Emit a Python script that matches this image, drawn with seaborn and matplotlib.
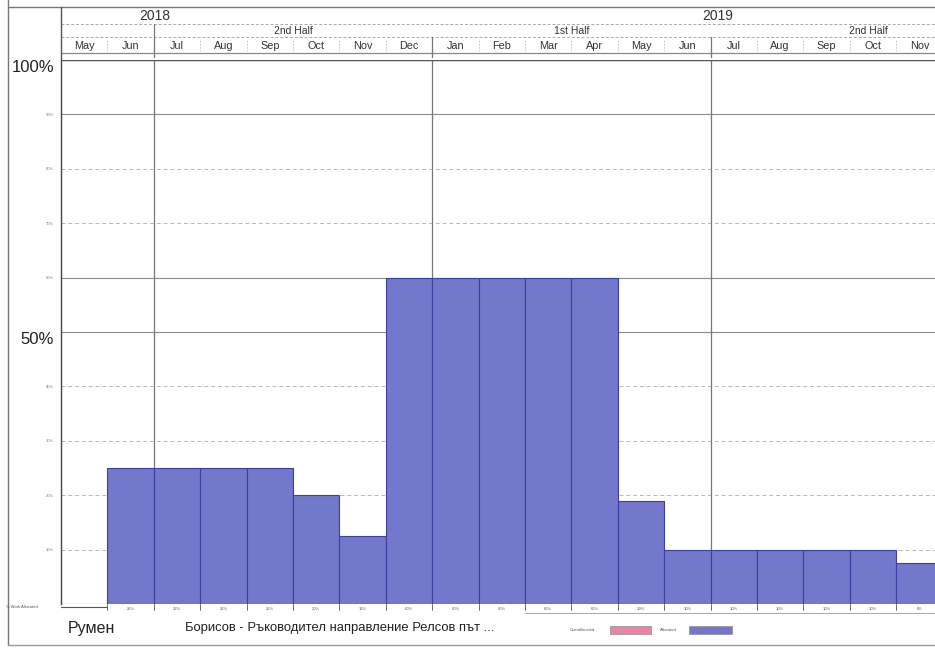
import matplotlib
matplotlib.use("Agg")
import matplotlib.pyplot as plt
import seaborn as sns
import pandas as pd
from matplotlib.patches import Rectangle
from matplotlib.lines import Line2D

# ---------------- data ----------------
months = ['May', 'Jun', 'Jul', 'Aug', 'Sep', 'Oct', 'Nov', 'Dec',
          'Jan', 'Feb', 'Mar', 'Apr', 'May', 'Jun', 'Jul', 'Aug', 'Sep', 'Oct', 'Nov']
years = ['2018'] * 8 + ['2019'] * 11
allocated = [0, 25, 25, 25, 25, 20, 12.5, 60, 60, 60, 60, 60, 19, 10, 10, 10, 10, 10, 7.5]
value_labels = ['', '25%', '25%', '25%', '25%', '20%', '13%', '60%', '60%', '60%', '60%',
                '60%', '19%', '10%', '10%', '10%', '10%', '10%', '8%']
year_labels = ['2018', '2019']
half_labels = ['2nd Half', '1st Half', '2nd Half']
y_ticks = [0, 10, 20, 30, 40, 50, 60, 70, 80, 90, 100]
resource_first = 'Румен'
resource_rest = 'Борисов - Ръководител направление Релсов път ...'
legend_labels = ['Overallocated', 'Allocated']

df = pd.DataFrame({'slot': [f'{y}-{i:02d}' for i, y in enumerate(years)],
                   'month': months, 'alloc': allocated})

# ---------------- style ----------------
sns.set_style("white")
plt.rcParams['font.family'] = ['Liberation Sans', 'DejaVu Sans']

W, H = 935, 648
fig = plt.figure(figsize=(W / 100, H / 100), dpi=100)
fig.patch.set_facecolor('white')

def fx(x):
    return x / W

def fy(y):
    return 1 - y / H

X0, X1 = 61, 935
MW = 46.4  # px per month
xlim = (-0.5, -0.5 + (X1 - X0) / MW)

BAR = '#7478CC'
EDGE = '#3B40A0'

# ---------------- main axes ----------------
ax = fig.add_axes([fx(X0), fy(604), fx(X1 - X0), (604 - 60) / H])
sns.barplot(data=df, x='slot', y='alloc', order=list(df['slot']), color=BAR,
            width=1.0, edgecolor=EDGE, linewidth=0.8, saturation=1, ax=ax, zorder=2)
ax.set_xlim(*xlim)
ax.set_ylim(0, 100)
ax.set_xlabel('')
ax.set_ylabel('')
ax.set_xticks([])
for s in ['top', 'right', 'bottom']:
    ax.spines[s].set_visible(False)
ax.spines['left'].set_color('#444444')
ax.spines['left'].set_linewidth(1.0)
ax.set_yticks(y_ticks)
ax.set_yticklabels([f'{t}%' if t else '' for t in y_ticks])
ax.tick_params(axis='y', direction='out', length=3, width=0.6, color='#444444', pad=2)
for t, lab in zip(y_ticks, ax.get_yticklabels()):
    if t in (50, 100):
        lab.set_fontsize(12)
        lab.set_color('#222222')
        lab.set_verticalalignment('top')
    else:
        lab.set_fontsize(3)
        lab.set_color('#777777')

# horizontal grid
for t in y_ticks[1:]:
    if t in (100, 90, 60, 50):
        ax.axhline(t, color='#8a8a8a', lw=0.8, zorder=0)
    else:
        ax.axhline(t, color='#b8b8b8', lw=0.7, ls=(0, (4, 3)), zorder=0)
ax.axhline(100, color='#555555', lw=1.0, zorder=3)
# half-year vertical grid lines
for b in [1.5, 7.5, 13.5]:
    ax.axvline(b, color='#777777', lw=0.9, zorder=1)

# ---------------- header axes ----------------
hx = fig.add_axes([fx(X0), fy(58), fx(X1 - X0), (58 - 7) / H])
hx.set_xlim(*xlim)
hx.set_ylim(58, 7)
hx.axis('off')
hx.axhline(24, color='#aaaaaa', lw=0.7, ls=(0, (3, 2)))
hx.axhline(37, color='#aaaaaa', lw=0.7, ls=(0, (3, 2)))
hx.axhline(53, color='#888888', lw=0.9)
for i, m in enumerate(months):
    hx.text(i, 46, m, ha='center', va='center', fontsize=7.8, color='#333333')
for b in range(len(months)):
    if b + 0.5 in (1.5, 7.5, 13.5):
        continue
    hx.plot([b + 0.5, b + 0.5], [40, 51], color='#bbbbbb', lw=0.6, ls=(0, (2, 2)))
hx.plot([1.5, 1.5], [24, 58], color='#777777', lw=0.9)
hx.plot([7.5, 7.5], [37, 58], color='#777777', lw=0.9)
hx.plot([13.5, 13.5], [37, 58], color='#777777', lw=0.9)
for lab, xp in zip(year_labels, [1.53, 13.66]):
    hx.text(xp, 16, lab, ha='center', va='center', fontsize=10, color='#333333')
for lab, xp in zip(half_labels, [4.5, 10.5, 16.9]):
    hx.text(xp, 31, lab, ha='center', va='center', fontsize=7.5, color='#333333')

# ---------------- bottom value row ----------------
bx = fig.add_axes([fx(X0), fy(614), fx(X1 - X0), 10 / H])
bx.set_xlim(*xlim)
bx.set_ylim(10, 0)
bx.axis('off')
for i, lab in enumerate(value_labels):
    bx.text(i, 4.5, lab, ha='center', va='center', fontsize=3, color='#555555')
for b in range(1, len(months)):
    bx.plot([b - 0.5, b - 0.5], [0, 6], color='#555555', lw=0.6)
bx.plot([-0.5, 0.5], [3, 3], color='#555555', lw=0.8)
bx.plot([9.5, xlim[1]], [9, 9], color='#999999', lw=0.6)

# ---------------- figure-level decorations ----------------
fig.add_artist(Line2D([fx(8), fx(8)], [fy(0), fy(645)], color='#777777', lw=1.0))
fig.add_artist(Line2D([fx(8), fx(935)], [fy(7), fy(7)], color='#777777', lw=1.0))
fig.add_artist(Line2D([fx(8), fx(935)], [fy(645), fy(645)], color='#999999', lw=1.0))
fig.add_artist(Line2D([fx(X0), fx(X0)], [fy(7), fy(60)], color='#555555', lw=1.0))

fig.text(fx(6), fy(607), '% Work Allocated', fontsize=3, color='#555555', va='center', ha='left')
fig.text(fx(68), fy(628), resource_first, fontsize=11.5, color='#222222', va='center', ha='left')
fig.text(fx(185), fy(628), resource_rest, fontsize=9.4, color='#222222', va='center', ha='left')

# legend
fig.text(fx(570), fy(630), legend_labels[0], fontsize=3, color='#555555', va='center', ha='left')
fig.add_artist(Rectangle((fx(610), fy(634)), fx(41), 8 / H, facecolor='#EC82A4',
                         edgecolor='#999999', lw=0.6))
fig.text(fx(660), fy(630), legend_labels[1], fontsize=3, color='#555555', va='center', ha='left')
fig.add_artist(Rectangle((fx(689), fy(634)), fx(43), 8 / H, facecolor=BAR,
                         edgecolor='#999999', lw=0.6))

fig.savefig('out.png', dpi=100)
